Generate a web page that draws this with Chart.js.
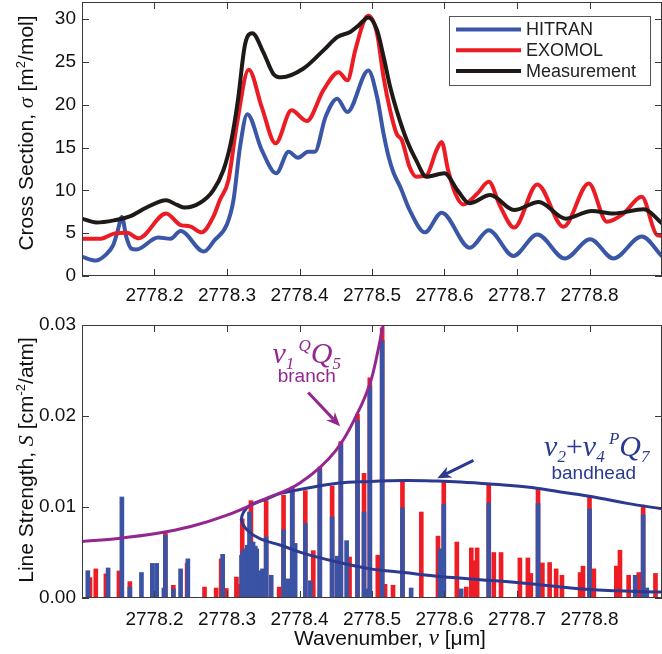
<!DOCTYPE html>
<html>
<head>
<meta charset="utf-8">
<script src="https://cdn.jsdelivr.net/npm/chart.js@4.4.1/dist/chart.umd.min.js"></script>
<style>
  html, body { margin: 0; padding: 0; background: #fff; }
  #wrap { position: relative; width: 662px; height: 654px; overflow: hidden; }
  #topChart { position: absolute; left: 0; top: -20px; }
  #bottomChart { position: absolute; left: 0; top: 300px; }
</style>
</head>
<body>
<div id="wrap">
  <canvas id="topChart" width="662" height="332"></canvas>
  <canvas id="bottomChart" width="662" height="354"></canvas>
</div>
<script>
// ---- axes ----
const xMin = 2778.1, xMax = 2778.9;
const xTickValues = [2778.2, 2778.3, 2778.4, 2778.5, 2778.6, 2778.7, 2778.8];
const sigmaTickValues = [0, 5, 10, 15, 20, 25, 30];
const strengthTickValues = [0, 0.01, 0.02, 0.03];

// ---- top panel: cross section [m2/mol] ----
const hitranX = [2778.100, 2778.119, 2778.133, 2778.143, 2778.149, 2778.155, 2778.161, 2778.168, 2778.175, 2778.205, 2778.222, 2778.236, 2778.268, 2778.283, 2778.300, 2778.309, 2778.318, 2778.328, 2778.348, 2778.368, 2778.385, 2778.398, 2778.412, 2778.421, 2778.436, 2778.452, 2778.466, 2778.495, 2778.507, 2778.516, 2778.523, 2778.530, 2778.539, 2778.552, 2778.573, 2778.596, 2778.635, 2778.661, 2778.695, 2778.728, 2778.766, 2778.801, 2778.833, 2778.872, 2778.900];
const hitranY = [2.25, 1.8, 2.5, 3.6, 5.2, 6.9, 4.6, 3.2, 3.1, 4.5, 4.35, 5.25, 2.85, 4.2, 6.05, 8.9, 15.1, 18.9, 14.7, 12.0, 14.5, 13.8, 14.5, 14.5, 18.6, 20.7, 19.15, 24.0, 20.9, 16.6, 13.9, 12.0, 10.4, 7.7, 5.1, 7.4, 3.3, 5.35, 2.35, 4.85, 2.05, 4.3, 2.05, 4.6, 2.3];

const exomolX = [2778.100, 2778.126, 2778.144, 2778.162, 2778.178, 2778.216, 2778.236, 2778.249, 2778.265, 2778.281, 2778.290, 2778.302, 2778.313, 2778.330, 2778.348, 2778.367, 2778.389, 2778.410, 2778.433, 2778.454, 2778.466, 2778.477, 2778.489, 2778.495, 2778.507, 2778.516, 2778.525, 2778.534, 2778.541, 2778.552, 2778.561, 2778.575, 2778.589, 2778.596, 2778.605, 2778.615, 2778.626, 2778.645, 2778.661, 2778.677, 2778.696, 2778.728, 2778.764, 2778.799, 2778.824, 2778.847, 2778.872, 2778.893, 2778.900];
const exomolY = [4.35, 4.35, 4.95, 5.05, 4.4, 7.3, 5.95, 5.8, 5.1, 6.9, 8.85, 11.2, 17.4, 24.1, 19.7, 15.5, 19.35, 18.1, 21.7, 23.8, 22.85, 26.4, 29.8, 30.4, 28.3, 23.2, 19.35, 16.6, 15.9, 12.7, 11.6, 11.75, 14.7, 15.65, 12.35, 9.6, 8.35, 9.6, 11.0, 8.1, 5.65, 10.7, 5.75, 10.8, 6.35, 7.3, 9.25, 4.8, 4.7];

const measX = [2778.100, 2778.120, 2778.144, 2778.167, 2778.189, 2778.216, 2778.231, 2778.242, 2778.263, 2778.281, 2778.295, 2778.306, 2778.315, 2778.325, 2778.335, 2778.350, 2778.364, 2778.375, 2778.405, 2778.433, 2778.452, 2778.470, 2778.482, 2778.495, 2778.507, 2778.516, 2778.525, 2778.534, 2778.548, 2778.561, 2778.575, 2778.600, 2778.618, 2778.634, 2778.663, 2778.696, 2778.730, 2778.767, 2778.803, 2778.833, 2778.875, 2778.900];
const measY = [6.7, 6.25, 6.5, 7.0, 8.0, 8.85, 8.3, 8.0, 8.55, 10.0, 12.35, 15.85, 20.5, 27.1, 28.35, 26.15, 23.6, 23.2, 24.2, 26.35, 27.9, 28.5, 29.3, 30.2, 28.7, 25.6, 22.1, 19.35, 15.85, 13.5, 11.6, 12.0, 10.0, 8.5, 9.45, 7.7, 8.65, 6.7, 7.6, 7.3, 7.8, 6.15];

// ---- bottom panel: line strengths [cm-2/atm] ----
const hitranLineX = [2778.108, 2778.136, 2778.155, 2778.166, 2778.182, 2778.197, 2778.203, 2778.213, 2778.215, 2778.226, 2778.236, 2778.246, 2778.294, 2778.320, 2778.322, 2778.325, 2778.328, 2778.331, 2778.336, 2778.339, 2778.341, 2778.344, 2778.349, 2778.354, 2778.361, 2778.378, 2778.384, 2778.390, 2778.394, 2778.408, 2778.415, 2778.428, 2778.445, 2778.452, 2778.457, 2778.465, 2778.480, 2778.489, 2778.492, 2778.497, 2778.514, 2778.542, 2778.554, 2778.594, 2778.599, 2778.623, 2778.661, 2778.729, 2778.800, 2778.863, 2778.874, 2778.879];
const hitranLineS = [0.0030, 0.0033, 0.0111, 0.0012, 0.0028, 0.0038, 0.0038, 0.0011, 0.0069, 0.0010, 0.0032, 0.0043, 0.0048, 0.0047, 0.0052, 0.0054, 0.0058, 0.00945, 0.00615, 0.0057, 0.0054, 0.0030, 0.0032, 0.0067, 0.0025, 0.0075, 0.0021, 0.0120, 0.0060, 0.0082, 0.0019, 0.0141, 0.0089, 0.0046, 0.0170, 0.0063, 0.0195, 0.00945, 0.0010, 0.0233, 0.0283, 0.0099, 0.0011, 0.0054, 0.0103, 0.0010, 0.01045, 0.0104, 0.0098, 0.0025, 0.00915, 0.0011];

const exomolLineX = [2778.111, 2778.119, 2778.133, 2778.151, 2778.166, 2778.215, 2778.226, 2778.245, 2778.269, 2778.285, 2778.292, 2778.299, 2778.313, 2778.316, 2778.321, 2778.333, 2778.354, 2778.372, 2778.378, 2778.390, 2778.408, 2778.419, 2778.428, 2778.445, 2778.457, 2778.469, 2778.480, 2778.489, 2778.497, 2778.508, 2778.514, 2778.518, 2778.529, 2778.542, 2778.568, 2778.591, 2778.599, 2778.617, 2778.630, 2778.637, 2778.641, 2778.645, 2778.661, 2778.668, 2778.678, 2778.704, 2778.715, 2778.719, 2778.729, 2778.735, 2778.745, 2778.754, 2778.762, 2778.787, 2778.791, 2778.800, 2778.806, 2778.837, 2778.842, 2778.854, 2778.868, 2778.874, 2778.891];
const exomolLineS = [0.00224, 0.0032, 0.00265, 0.00297, 0.0018, 0.00725, 0.0014, 0.0038, 0.0012, 0.0011, 0.0043, 0.00105, 0.0023, 0.0015, 0.0087, 0.0107, 0.0107, 0.0012, 0.0113, 0.0122, 0.0118, 0.0052, 0.0144, 0.0123, 0.0172, 0.0045, 0.0202, 0.0137, 0.0242, 0.0047, 0.0297, 0.0015, 0.0014, 0.01275, 0.00945, 0.0068, 0.0127, 0.00615, 0.0012, 0.0055, 0.0041, 0.0055, 0.0126, 0.0050, 0.0050, 0.0044, 0.0044, 0.0027, 0.0120, 0.00385, 0.0039, 0.0032, 0.0025, 0.0028, 0.0035, 0.0111, 0.0032, 0.0035, 0.00525, 0.0025, 0.0028, 0.0102, 0.0027];

// v1 QQ5 branch envelope
const branchX = [2778.100, 2778.150, 2778.200, 2778.250, 2778.300, 2778.350, 2778.400, 2778.450, 2778.475, 2778.500, 2778.516];
const branchS = [0.0062, 0.00655, 0.00705, 0.00785, 0.0091, 0.0108, 0.0126, 0.0162, 0.0195, 0.0243, 0.0302];

// v2+v4 PQ7 bandhead (folds back on itself: upper branch, head, lower branch)
const bandheadX = [2778.900, 2778.852, 2778.806, 2778.760, 2778.714, 2778.668, 2778.622, 2778.590, 2778.544, 2778.498, 2778.452, 2778.406, 2778.374, 2778.355, 2778.332, 2778.323, 2778.320, 2778.328, 2778.346, 2778.374, 2778.406, 2778.452, 2778.498, 2778.544, 2778.590, 2778.636, 2778.714, 2778.806, 2778.900];
const bandheadS = [0.0098, 0.0104, 0.0111, 0.01165, 0.0122, 0.0125, 0.01275, 0.01285, 0.0129, 0.0128, 0.0126, 0.0120, 0.0115, 0.0109, 0.0102, 0.00945, 0.00854, 0.00745, 0.0065, 0.0058, 0.0049, 0.00395, 0.0032, 0.0028, 0.0024, 0.0021, 0.0016, 0.0009, 0.00065];

// annotation anchors (data coordinates)
const branchLabel = { x: 2778.410, s: 0.0258, sub: 0.0237 };
const branchArrow = { x1: 2778.412, s1: 0.02259, x2: 2778.456, s2: 0.01887 };
const bandLabel = { x: 2778.810, s: 0.01557, sub: 0.01304 };
const bandArrow = { x1: 2778.640, s1: 0.01513, x2: 2778.590, s2: 0.01316 };

const SANS = '"Liberation Sans", Arial, Helvetica, sans-serif';
const SERIF = '"Liberation Serif", "Times New Roman", serif';
const BLUE = '#3a56a6', RED = '#ec1c24', BLACK = '#1f1a17';
const BAR_BLUE = '#3a53a4', BAR_RED = '#ee1d23';
const PURPLE = '#92278f', NAVY = '#2b3990';

function pts(xs, ys) {
    return xs.map((x, i) => ({ x: x, y: ys[i] }));
}

// draws a run of text pieces [text, font, dy] centred on (x, y), optionally rotated
function drawRich(ctx, parts, x, y, rotate, color) {
    ctx.save();
    ctx.translate(x, y);
    if (rotate) ctx.rotate(-Math.PI / 2);
    ctx.fillStyle = color || '#111';
    ctx.textBaseline = 'alphabetic';
    ctx.textAlign = 'left';
    let w = 0;
    parts.forEach(p => { ctx.font = p[1]; w += ctx.measureText(p[0]).width; });
    let cx = -w / 2;
    parts.forEach(p => {
        ctx.font = p[1];
        ctx.fillText(p[0], cx, p[2] || 0);
        cx += ctx.measureText(p[0]).width;
    });
    ctx.restore();
}

function drawArrow(ctx, x1, y1, x2, y2, color) {
    const a = Math.atan2(y2 - y1, x2 - x1), L = 14, W = 6;
    ctx.save();
    ctx.strokeStyle = color;
    ctx.fillStyle = color;
    ctx.lineWidth = 3;
    ctx.beginPath();
    ctx.moveTo(x1, y1);
    ctx.lineTo(x2 - L * 0.7 * Math.cos(a), y2 - L * 0.7 * Math.sin(a));
    ctx.stroke();
    ctx.beginPath();
    ctx.moveTo(x2, y2);
    ctx.lineTo(x2 - L * Math.cos(a) + W * Math.sin(a), y2 - L * Math.sin(a) - W * Math.cos(a));
    ctx.lineTo(x2 - L * 0.7 * Math.cos(a), y2 - L * 0.7 * Math.sin(a));
    ctx.lineTo(x2 - L * Math.cos(a) - W * Math.sin(a), y2 - L * Math.sin(a) + W * Math.cos(a));
    ctx.closePath();
    ctx.fill();
    ctx.restore();
}

// box round the plot with inward ticks on all four sides
const framePlugin = {
    id: 'frame',
    afterDraw(chart) {
        const { ctx, chartArea: a, scales } = chart;
        ctx.save();
        ctx.strokeStyle = '#3a3a3a';
        ctx.lineWidth = 1;
        ctx.strokeRect(a.left + 0.5, a.top + 0.5, a.right - a.left - 1, a.bottom - a.top - 1);
        ctx.beginPath();
        scales.x.ticks.forEach(t => {
            const p = Math.round(scales.x.getPixelForValue(t.value)) + 0.5;
            ctx.moveTo(p, a.bottom); ctx.lineTo(p, a.bottom - 7);
            ctx.moveTo(p, a.top); ctx.lineTo(p, a.top + 7);
        });
        scales.y.ticks.forEach(t => {
            const p = Math.round(scales.y.getPixelForValue(t.value)) + 0.5;
            ctx.moveTo(a.left, p); ctx.lineTo(a.left + 7, p);
            ctx.moveTo(a.right, p); ctx.lineTo(a.right - 7, p);
        });
        ctx.stroke();
        ctx.restore();
    }
};

function xAxis(height, pad) {
    return {
        type: 'linear', min: xMin, max: xMax, offset: false,
        grid: { display: false, drawTicks: false }, border: { display: false },
        afterBuildTicks: s => { s.ticks = xTickValues.map(v => ({ value: v })); },
        afterFit: s => { s.height = height; },
        ticks: { font: { family: SANS, size: 19 }, color: '#111', padding: pad, maxRotation: 0,
                 callback: v => v.toFixed(1) }
    };
}

function yAxis(min, max, values, digits) {
    return {
        type: 'linear', min: min, max: max,
        grid: { display: false, drawTicks: false }, border: { display: false },
        afterBuildTicks: s => { s.ticks = values.map(v => ({ value: v })); },
        afterFit: s => { s.width = 82; },
        ticks: { font: { family: SANS, size: 19 }, color: '#111', padding: 6,
                 callback: v => v.toFixed(digits) }
    };
}

// ---- top chart ----
const topLabels = {
    id: 'topLabels',
    afterDraw(chart) {
        const ctx = chart.ctx, a = chart.chartArea;
        drawRich(ctx, [
            ['Cross Section, ', '21px ' + SANS],
            ['\u03c3', 'italic 22px ' + SERIF],
            [' [m', '21px ' + SANS],
            ['2', '13px ' + SANS, -8],
            ['/mol]', '21px ' + SANS]
        ], 33, a.top + 131, true);

        // legend
        const items = [['HITRAN', BLUE], ['EXOMOL', RED], ['Measurement', BLACK]];
        const bx = a.right - 213, by = a.top + 14;
        ctx.save();
        ctx.fillStyle = '#fff';
        ctx.fillRect(bx, by, 202, 70);
        ctx.strokeStyle = '#555';
        ctx.lineWidth = 1;
        ctx.strokeRect(bx + 0.5, by + 0.5, 201, 69);
        ctx.font = '18px ' + SANS;
        ctx.textBaseline = 'middle';
        items.forEach((it, i) => {
            const y = by + 13.5 + i * 20.8;
            ctx.strokeStyle = it[1];
            ctx.lineWidth = 4;
            ctx.beginPath(); ctx.moveTo(bx + 7, y); ctx.lineTo(bx + 72, y); ctx.stroke();
            ctx.fillStyle = '#222';
            ctx.fillText(it[0], bx + 77, y + 1);
        });
        ctx.restore();
    }
};

new Chart(document.getElementById('topChart').getContext('2d'), {
    type: 'line',
    data: {
        datasets: [
            { label: 'Measurement', data: pts(measX, measY), borderColor: BLACK, borderWidth: 4 },
            { label: 'EXOMOL', data: pts(exomolX, exomolY), borderColor: RED, borderWidth: 4 },
            { label: 'HITRAN', data: pts(hitranX, hitranY), borderColor: BLUE, borderWidth: 4 }
        ]
    },
    options: {
        responsive: false,
        animation: false,
        layout: { padding: { top: 22, right: 0, left: 0, bottom: 0 } },
        elements: { point: { radius: 0 }, line: { cubicInterpolationMode: 'monotone', fill: false } },
        plugins: { legend: { display: false }, tooltip: { enabled: false } },
        scales: {
            x: xAxis(36, 8),
            y: yAxis(0, 32, sigmaTickValues, 0)
        }
    },
    plugins: [framePlugin, topLabels]
});

// ---- bottom chart ----
const bottomLabels = {
    id: 'bottomLabels',
    afterDraw(chart) {
        const ctx = chart.ctx, x = chart.scales.x, y = chart.scales.y;
        drawRich(ctx, [
            ['Line Strength, ', '21px ' + SANS],
            ['S', 'italic 22px ' + SERIF],
            [' [cm', '21px ' + SANS],
            ['-2', '13px ' + SANS, -8],
            ['/atm]', '21px ' + SANS]
        ], 33, 160, true);
        drawRich(ctx, [
            ['Wavenumber, ', '21px ' + SANS],
            ['\u03bd', 'italic 23px ' + SERIF],
            [' [\u03bcm]', '21px ' + SANS]
        ], 390, 345, false);

        const big = 'italic 30px ' + SERIF, small = 'italic 17px ' + SERIF;
        drawRich(ctx, [
            ['\u03bd', big], ['1', small, 6], [' ', small],
            ['Q', small, -12], ['Q', big], ['5', small, 6]
        ], x.getPixelForValue(branchLabel.x), y.getPixelForValue(branchLabel.s), false, PURPLE);
        drawRich(ctx, [['branch', '19px ' + SANS]],
            x.getPixelForValue(branchLabel.x), y.getPixelForValue(branchLabel.sub), false, PURPLE);
        drawArrow(ctx, x.getPixelForValue(branchArrow.x1), y.getPixelForValue(branchArrow.s1),
            x.getPixelForValue(branchArrow.x2), y.getPixelForValue(branchArrow.s2), PURPLE);

        drawRich(ctx, [
            ['\u03bd', big], ['2', small, 6], ['+', '30px ' + SERIF], ['\u03bd', big], ['4', small, 6],
            [' ', small], ['P', small, -12], ['Q', big], ['7', small, 6]
        ], x.getPixelForValue(bandLabel.x), y.getPixelForValue(bandLabel.s), false, NAVY);
        drawRich(ctx, [['bandhead', '19px ' + SANS]],
            x.getPixelForValue(bandLabel.x) - 3, y.getPixelForValue(bandLabel.sub), false, NAVY);
        drawArrow(ctx, x.getPixelForValue(bandArrow.x1), y.getPixelForValue(bandArrow.s1),
            x.getPixelForValue(bandArrow.x2), y.getPixelForValue(bandArrow.s2), NAVY);
    }
};

new Chart(document.getElementById('bottomChart').getContext('2d'), {
    type: 'bar',
    data: {
        datasets: [
            { type: 'line', label: 'branch', data: pts(branchX, branchS), borderColor: PURPLE, borderWidth: 3,
              pointRadius: 0, cubicInterpolationMode: 'monotone' },
            { type: 'line', label: 'bandhead', data: pts(bandheadX, bandheadS), borderColor: NAVY, borderWidth: 3,
              pointRadius: 0, tension: 0.4 },
            { label: 'HITRAN', data: pts(hitranLineX, hitranLineS), backgroundColor: BAR_BLUE, barThickness: 4, grouped: false },
            { label: 'EXOMOL', data: pts(exomolLineX, exomolLineS), backgroundColor: BAR_RED, barThickness: 4, grouped: false }
        ]
    },
    options: {
        responsive: false,
        animation: false,
        layout: { padding: { top: 25, right: 0, left: 0, bottom: 0 } },
        plugins: { legend: { display: false }, tooltip: { enabled: false } },
        scales: {
            x: xAxis(56, 10),
            y: yAxis(0, 0.03, strengthTickValues, 2)
        }
    },
    plugins: [framePlugin, bottomLabels]
});
</script>
</body>
</html>
